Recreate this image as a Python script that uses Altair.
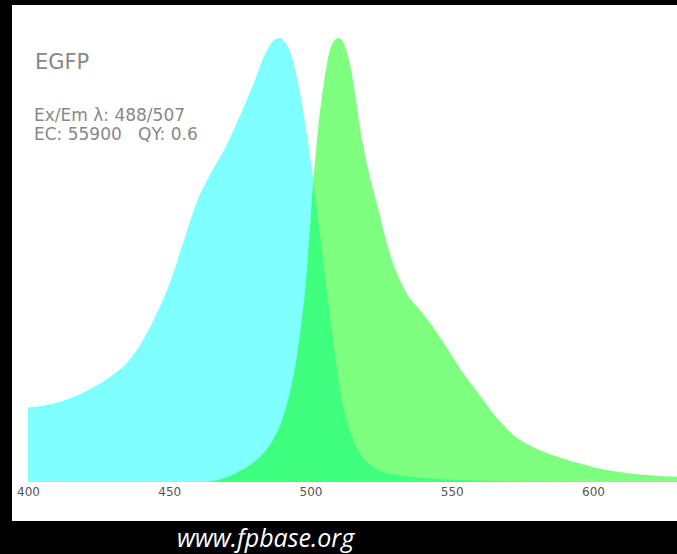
import altair as alt
import pandas as pd

# Excitation spectrum (normalized)
ex_wl = [400, 405, 410, 415, 420, 425, 430, 435, 440, 445, 450, 455, 460, 463, 466,
         470, 475, 480, 484, 487, 489, 491, 493, 496, 499, 502, 505, 508, 511, 514,
         517, 520, 525, 530, 540, 550, 560, 580, 600]
ex_val = [0.168, 0.172, 0.178, 0.189, 0.203, 0.22, 0.241, 0.268, 0.312, 0.372, 0.445,
          0.54, 0.635, 0.675, 0.71, 0.755, 0.825, 0.9, 0.965, 0.995, 1.0, 0.99, 0.965,
          0.885, 0.77, 0.63, 0.47, 0.32, 0.19, 0.115, 0.07, 0.045, 0.025, 0.017, 0.009,
          0.005, 0.003, 0.001, 0.0]

# Emission spectrum (normalized)
em_wl = [463, 467, 470, 473, 476, 480, 484, 487, 490, 492, 494, 496, 497, 498, 499,
         500, 501, 502, 503, 504, 505, 506, 507, 508, 509, 510, 512, 514, 516, 518,
         520, 522, 524, 526, 529, 532, 535, 538, 541, 544, 547, 550, 553, 556, 560,
         564, 568, 572, 576, 580, 585, 590, 595, 600, 605, 610, 615, 620, 625, 630]
em_val = [0.0, 0.004, 0.01, 0.018, 0.028, 0.045, 0.07, 0.098, 0.14, 0.185, 0.24, 0.32,
          0.37, 0.425, 0.5, 0.59, 0.68, 0.75, 0.815, 0.865, 0.91, 0.948, 0.975, 0.99,
          0.998, 1.0, 0.985, 0.94, 0.865, 0.78, 0.715, 0.662, 0.615, 0.562, 0.497, 0.45,
          0.415, 0.393, 0.37, 0.343, 0.315, 0.285, 0.255, 0.228, 0.195, 0.16, 0.13,
          0.105, 0.088, 0.075, 0.062, 0.052, 0.042, 0.034, 0.027, 0.022, 0.018, 0.015,
          0.013, 0.012]

tick_values = [400, 450, 500, 550, 600]

name = "EGFP"
info1 = "Ex/Em λ: 488/507"
info2 = "EC: 55900\u00a0\u00a0\u00a0QY: 0.6"
footer = "www.fpbase.org"

df = pd.concat([
    pd.DataFrame({"wl": ex_wl, "val": ex_val, "base": 0.0, "spec": "ex"}),
    pd.DataFrame({"wl": em_wl, "val": em_val, "base": 0.0, "spec": "em"}),
])

xscale = alt.Scale(domain=[394.34, 629.73], nice=False, zero=False)
yscale = alt.Scale(domain=[-0.0878, 1.0743], nice=False, zero=False)

areas = alt.Chart(df).mark_area(opacity=0.5, interpolate="monotone", clip=True).encode(
    x=alt.X("wl:Q", scale=xscale,
            axis=alt.Axis(values=tick_values, title=None, grid=False, ticks=False,
                          domain=False, labelColor="#555555", labelFont="DejaVu Sans",
                          labelFontSize=12, labelPadding=1, offset=-36)),
    y=alt.Y("val:Q", scale=yscale, axis=None),
    y2="base:Q",
    color=alt.Color("spec:N", scale=alt.Scale(domain=["ex", "em"], range=["#00ffff", "#00ff00"]),
                    legend=None),
    order=alt.Order("spec:N", sort="descending"),
    detail="spec:N",
)

t_name = alt.Chart().mark_text(text=name, align="left", baseline="alphabetic", font="DejaVu Sans",
                               fontSize=21, color="#888888").encode(
    x=alt.value(23), y=alt.value(64))
t_info1 = alt.Chart().mark_text(text=info1, align="left", baseline="alphabetic", font="DejaVu Sans",
                                fontSize=17, color="#888888").encode(
    x=alt.value(22), y=alt.value(116))
t_info2 = alt.Chart().mark_text(text=info2, align="left", baseline="alphabetic", font="DejaVu Sans",
                                fontSize=17, color="#888888").encode(
    x=alt.value(22), y=alt.value(135))
t_footer = alt.Chart().mark_text(text=footer, align="left", baseline="alphabetic", font="Open Sans",
                                 fontStyle="italic", fontSize=25, color="#ffffff").encode(
    x=alt.value(165), y=alt.value(542))

chart = alt.layer(areas, t_name, t_info1, t_info2, t_footer).properties(
    width=665, height=516,
    autosize=alt.AutoSizeParams(type="none"),
    padding={"left": 12, "top": 5, "right": 0, "bottom": 33},
    background="#000000",
).configure_view(fill="#ffffff", stroke=None)

chart.save("out.html", embed_options={"renderer": "svg", "actions": False})
